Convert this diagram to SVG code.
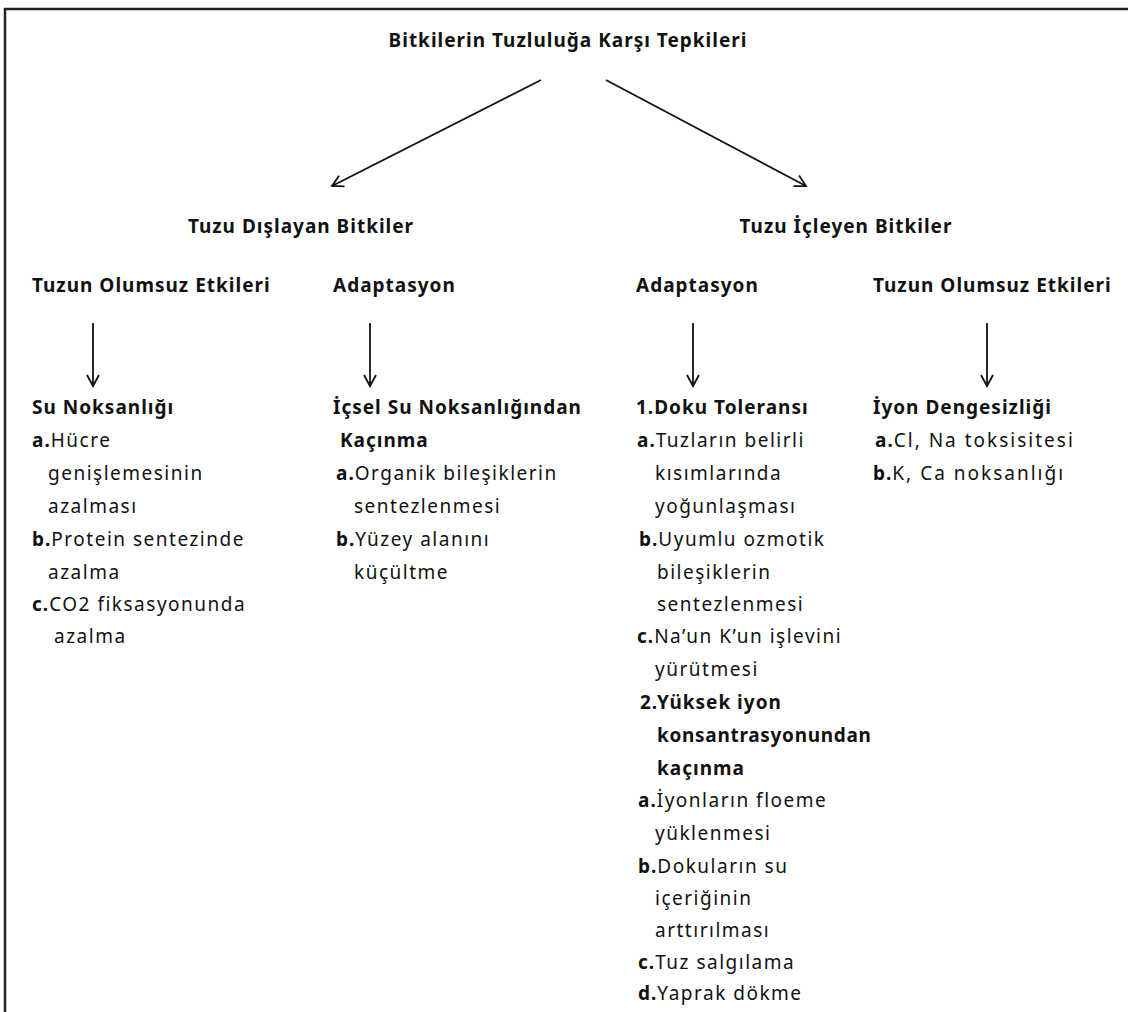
<svg xmlns="http://www.w3.org/2000/svg" width="1128" height="1012" viewBox="0 0 1128 1012">
<defs>
<marker id="ah" markerWidth="14" markerHeight="14" refX="12" refY="7" orient="auto" markerUnits="userSpaceOnUse">
<path d="M1,1 L12,7 L1,13" fill="none" stroke="#111" stroke-width="1.8"/>
</marker>
<style>
text{font-family:"Noto Sans","DejaVu Sans",sans-serif;font-size:19px;fill:#111;letter-spacing:1.5px}
.b{font-weight:bold;letter-spacing:1px}
.w{letter-spacing:2px}
.n{letter-spacing:0.7px}
.con{stroke:#111;stroke-width:1.8;fill:none;marker-end:url(#ah)}
</style>
</defs>
<rect width="1128" height="1012" fill="#fff"/>
<path d="M5,1012 V9 H1128" fill="none" stroke="#222" stroke-width="2.5"/>
<g id="title"><text class="b" x="568" y="47" text-anchor="middle">Bitkilerin Tuzluluğa Karşı Tepkileri</text></g>
<g id="dislayan"><text class="b" x="301" y="233" text-anchor="middle">Tuzu Dışlayan Bitkiler</text></g>
<g id="icleyen"><text class="b" x="846" y="233" text-anchor="middle">Tuzu İçleyen Bitkiler</text></g>
<g id="h1"><text class="b" x="32" y="292">Tuzun  Olumsuz Etkileri</text></g>
<g id="h2"><text class="b" x="333" y="292">Adaptasyon</text></g>
<g id="h3"><text class="b" x="636" y="292">Adaptasyon</text></g>
<g id="h4"><text class="b" x="873" y="292">Tuzun  Olumsuz  Etkileri</text></g>
<g id="connectors">
<line class="con" x1="541" y1="80" x2="332" y2="186"/>
<line class="con" x1="606" y1="80" x2="806" y2="186"/>
<line class="con" x1="93" y1="323" x2="93" y2="386"/>
<line class="con" x1="370" y1="323" x2="370" y2="386"/>
<line class="con" x1="693" y1="323" x2="693" y2="386"/>
<line class="con" x1="987" y1="323" x2="987" y2="386"/>
</g>
<g id="col1">
<text class="b" x="32" y="414">Su Noksanlığı</text>
<text x="32" y="447"><tspan class="b">a.</tspan>Hücre</text>
<text x="48" y="480">genişlemesinin</text>
<text x="48" y="513">azalması</text>
<text x="32" y="546"><tspan class="b">b.</tspan>Protein sentezinde</text>
<text x="48" y="579">azalma</text>
<text x="32" y="611"><tspan class="b">c.</tspan>CO2 fiksasyonunda</text>
<text x="54" y="643">azalma</text>
</g>
<g id="col2">
<text class="b" x="333" y="414">İçsel Su Noksanlığından</text>
<text class="b" x="340" y="447">Kaçınma</text>
<text x="336" y="480"><tspan class="b">a.</tspan>Organik bileşiklerin</text>
<text x="354" y="513">sentezlenmesi</text>
<text x="336" y="546"><tspan class="b">b.</tspan>Yüzey alanını</text>
<text x="354" y="579">küçültme</text>
</g>
<g id="col3">
<text class="b" x="636" y="414">1.Doku Toleransı</text>
<text x="637" y="447"><tspan class="b">a.</tspan>Tuzların belirli</text>
<text x="655" y="480">kısımlarında</text>
<text x="655" y="513">yoğunlaşması</text>
<text x="639" y="546"><tspan class="b">b.</tspan>Uyumlu ozmotik</text>
<text x="657" y="579">bileşiklerin</text>
<text x="657" y="611">sentezlenmesi</text>
<text x="637" y="643"><tspan class="b">c.</tspan>Na’un K’un işlevini</text>
<text x="655" y="676">yürütmesi</text>
<text class="b" x="640" y="709">2.Yüksek iyon</text>
<text class="b n" x="657" y="742">konsantrasyonundan</text>
<text class="b" x="657" y="775">kaçınma</text>
<text x="638" y="807"><tspan class="b">a.</tspan>İyonların floeme</text>
<text x="655" y="840">yüklenmesi</text>
<text x="638" y="873"><tspan class="b">b.</tspan>Dokuların su</text>
<text x="655" y="905">içeriğinin</text>
<text x="655" y="937">arttırılması</text>
<text x="638" y="969"><tspan class="b">c.</tspan>Tuz salgılama</text>
<text x="638" y="1000"><tspan class="b">d.</tspan>Yaprak dökme</text>
</g>
<g id="col4">
<text class="b" x="873" y="414">İyon Dengesizliği</text>
<text class="w" x="875" y="447"><tspan class="b">a.</tspan>Cl, Na toksisitesi</text>
<text class="w" x="873" y="480"><tspan class="b">b.</tspan>K, Ca noksanlığı</text>
</g>
</svg>
